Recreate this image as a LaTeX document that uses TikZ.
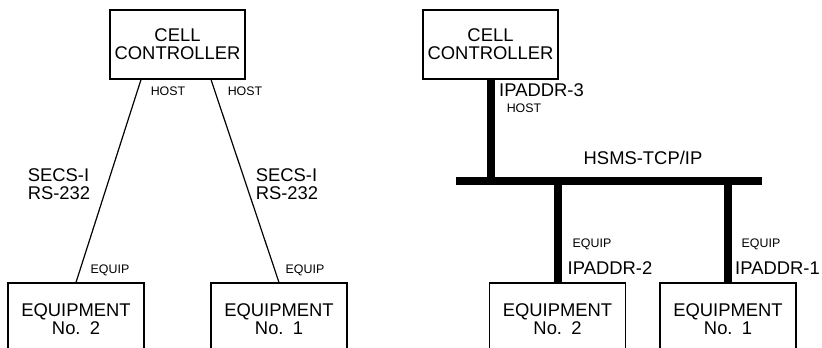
\documentclass[tikz,border=0pt]{standalone}
\usepackage{fontspec}
\setmainfont{Liberation Sans}
\usetikzlibrary{calc}
\begin{document}
\begin{tikzpicture}[x=0.75pt,y=-0.75pt,
  ccbox/.style={draw,line width=0.9pt,minimum width=101.25pt,minimum height=51.75pt,
    align=center,inner sep=0pt,font=\fontsize{13.8}{13.6}\selectfont},
  eqbox/.style={draw,line width=0.9pt,minimum width=102pt,minimum height=54pt,
    align=center,inner sep=0pt,font=\fontsize{13.8}{13.2}\selectfont},
  small/.style={inner sep=0pt,font=\fontsize{9.3}{10}\selectfont},
  big/.style={inner sep=0pt,align=left,font=\fontsize{13.8}{13}\selectfont},
  thinline/.style={line width=0.9pt},
  bus/.style={line width=6pt}]
\useasboundingbox (0,0) rectangle (822,347);
\clip (0,0) rectangle (822,347);
% ---------- left diagram ----------
\node[ccbox] (cc1) at (177.5,44.5) {CELL\\CONTROLLER};
\node[eqbox] (e2a) at (76,319) {EQUIPMENT\\No.\enspace 2};
\node[eqbox] (e1a) at (279,319) {EQUIPMENT\\No.\enspace 1};
\draw[thinline] ($(cc1.south)+(-36.5,0)$) -- (e2a.north);
\draw[thinline] ($(cc1.south)+(33.5,0)$) -- (e1a.north);
\node[small] (h1) at (168,91) {HOST};
\node[small] (h2) at (245,91) {HOST};
\node[big] (s1) at (59,184) {SECS-I\\RS-232};
\node[big] (s2) at (287,184) {SECS-I\\RS-232};
\node[small] (q1) at (110,270) {EQUIP};
\node[small] (q2) at (305,270) {EQUIP};
% ---------- right diagram ----------
\node[ccbox] (cc2) at (490.5,44.5) {CELL\\CONTROLLER};
\node[eqbox] (e2b) at (557.5,319) {EQUIPMENT\\No.\enspace 2};
\node[eqbox] (e1b) at (728,319) {EQUIPMENT\\No.\enspace 1};
\coordinate (bl) at (456,181);
\coordinate (br) at (762,181);
\draw[bus] (bl) -- (br);
\draw[bus] (cc2.south) -- (cc2.south |- bl);
\draw[bus] (e2b.north |- bl) -- (e2b.north);
\draw[bus] (e1b.north |- bl) -- (e1b.north);
\node[big] (ip3) at (541.5,90) {IPADDR-3};
\node[small] (h3) at (524,108) {HOST};
\node[big] (hs) at (643,158) {HSMS-TCP/IP};
\node[small] (q3) at (592,244) {EQUIP};
\node[big] (ip2) at (610,268) {IPADDR-2};
\node[small] (q4) at (761,244) {EQUIP};
\node[big] (ip1) at (777.5,268) {IPADDR-1};
\end{tikzpicture}
\end{document}
